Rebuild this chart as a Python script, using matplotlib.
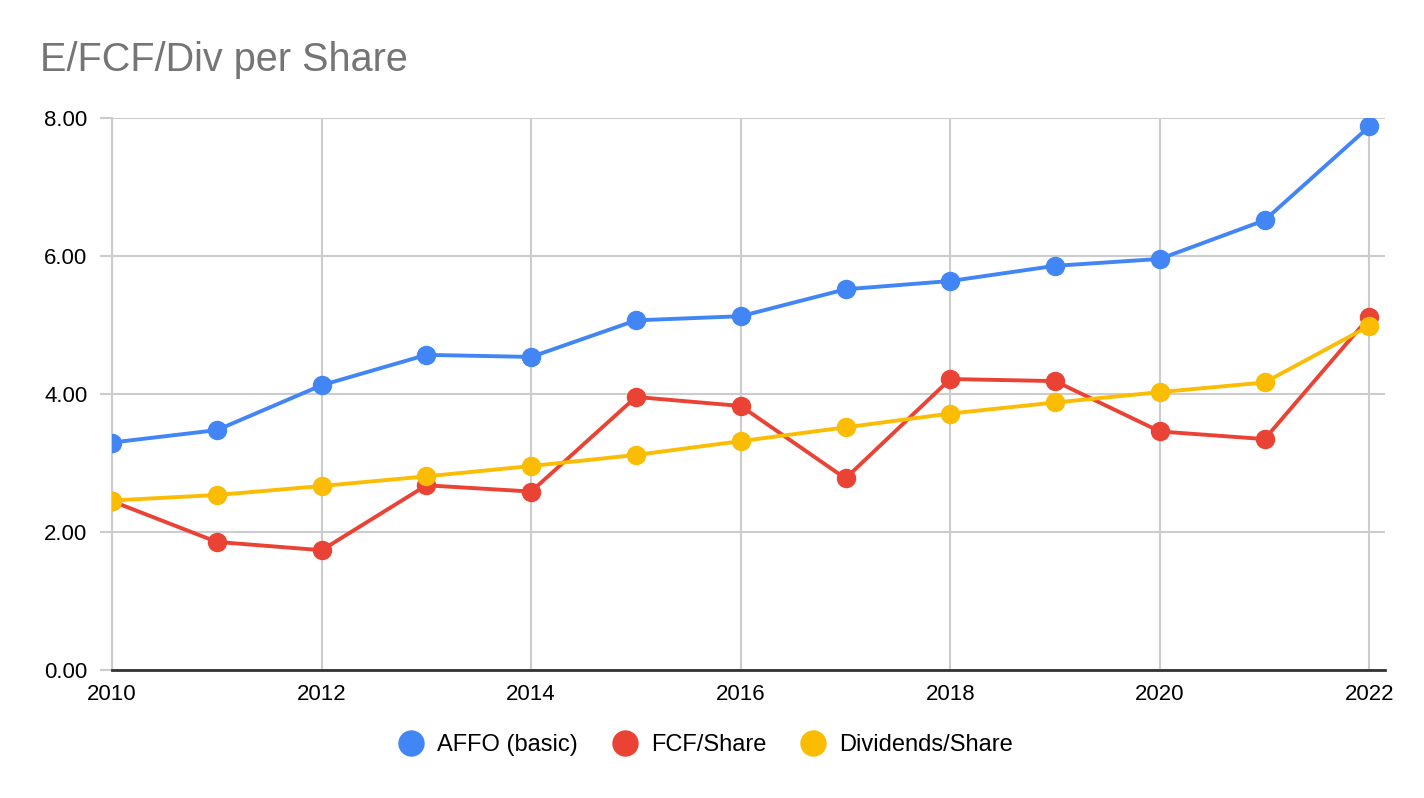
import matplotlib.pyplot as plt

plt.rcParams['font.family'] = ['Liberation Sans', 'DejaVu Sans']

years = [2010, 2011, 2012, 2013, 2014, 2015, 2016, 2017, 2018, 2019, 2020, 2021, 2022]
affo = [3.30, 3.48, 4.13, 4.57, 4.54, 5.07, 5.13, 5.52, 5.64, 5.86, 5.96, 6.52, 7.88]
fcf = [2.45, 1.86, 1.74, 2.68, 2.59, 3.96, 3.83, 2.78, 4.22, 4.19, 3.46, 3.35, 5.12]
divs = [2.46, 2.54, 2.67, 2.81, 2.96, 3.12, 3.32, 3.52, 3.72, 3.88, 4.03, 4.17, 4.99]

fig = plt.figure(figsize=(14.24, 7.98), dpi=100)
ax = fig.add_axes([0.0787, 0.160, 0.894, 0.692])

# series
ax.plot(years, affo, color='#4285f4', lw=2.8, marker='o', ms=13, label='AFFO (basic)', zorder=3)
ax.plot(years, fcf, color='#ea4335', lw=2.8, marker='o', ms=13, label='FCF/Share', zorder=4)
ax.plot(years, divs, color='#fbbc04', lw=2.8, marker='o', ms=13, label='Dividends/Share', zorder=5)

ax.set_xlim(2010, 2022.15)
ax.set_ylim(0, 8)
ax.set_yticks([0, 2, 4, 6, 8])
ax.set_yticklabels(['%.2f' % v for v in [0, 2, 4, 6, 8]])
ax.set_xticks(range(2010, 2023, 2))
ax.tick_params(labelsize=16, colors='#000000')
ax.tick_params(axis='x', length=0, pad=10)
ax.tick_params(axis='y', length=8.6, width=1.5, color='#cccccc', pad=9, labelcolor='#000000')

ax.grid(True, color='#cccccc', lw=1.5)
ax.set_axisbelow(True)
for s in ['top', 'right']:
    ax.spines[s].set_visible(False)
ax.spines['left'].set_color('#cccccc')
ax.spines['left'].set_linewidth(1.5)
ax.spines['bottom'].set_color('#333333')
ax.spines['bottom'].set_linewidth(2)

fig.text(0.028, 0.925, 'E/FCF/Div per Share', fontsize=28.5, color='#757575', va='center')

leg = fig.legend(loc='center', bbox_to_anchor=(0.5, 0.066), ncol=3, frameon=False,
                 fontsize=17, handlelength=0, handletextpad=1.1, columnspacing=2.0)
for h in leg.legend_handles:
    h.set_linestyle('')
    h.set_markersize(18)

fig.savefig('out.png', dpi=100)
